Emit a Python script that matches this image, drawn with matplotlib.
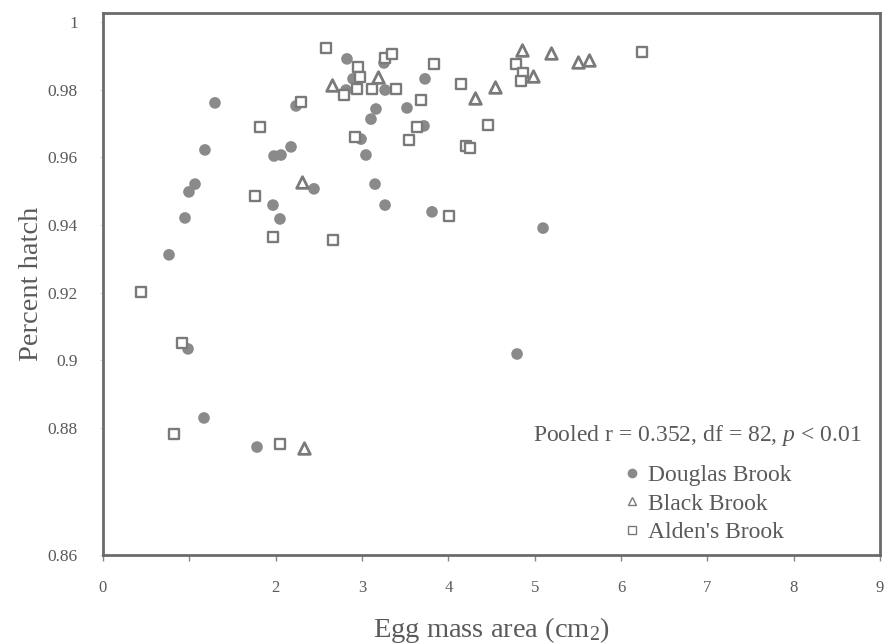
import matplotlib
matplotlib.use("Agg")
import matplotlib.pyplot as plt
from matplotlib.lines import Line2D

plt.rcParams['font.family'] = ['Liberation Serif', 'DejaVu Serif']
plt.rcParams['mathtext.fontset'] = 'custom'
plt.rcParams['mathtext.rm'] = 'Liberation Serif'
plt.rcParams['mathtext.it'] = 'Liberation Serif:italic'

# Douglas Brook (filled circles)
douglas_x = [0.765, 0.950, 0.996, 1.066, 1.181, 1.297, 0.985, 1.170, 1.784, 1.981,
             2.062, 2.178, 2.236, 2.444, 1.969, 2.050, 2.826, 2.815, 2.896, 2.989,
             3.046, 3.104, 3.162, 3.151, 3.267, 3.255, 3.267, 3.521, 3.730, 3.718,
             3.811, 5.097, 4.796]
douglas_y = [0.9312, 0.9421, 0.9498, 0.9521, 0.9622, 0.9761, 0.9034, 0.8830, 0.8744, 0.9604,
             0.9607, 0.9631, 0.9752, 0.9507, 0.9459, 0.9418, 0.9891, 0.9799, 0.9832, 0.9654,
             0.9607, 0.9713, 0.9743, 0.9521, 0.9799, 0.9879, 0.9459, 0.9746, 0.9832, 0.9693,
             0.9439, 0.9391, 0.9019]

# Black Brook (open triangles)
black_x = [2.305, 2.328, 2.653, 3.185, 4.309, 4.541, 4.853, 4.981, 5.189, 5.502, 5.630]
black_y = [0.9527, 0.8742, 0.9814, 0.9838, 0.9775, 0.9808, 0.9917, 0.9840, 0.9908, 0.9882, 0.9888]

# Alden's Brook (open squares)
alden_x = [0.440, 0.915, 0.822, 1.761, 1.819, 1.969, 2.050, 2.294, 2.583, 2.664,
           2.792, 2.919, 2.942, 2.954, 2.977, 3.116, 3.267, 3.348, 3.394, 3.545,
           3.637, 3.684, 3.834, 4.008, 4.147, 4.205, 4.251, 4.460, 4.784, 4.865,
           4.842, 6.243]
alden_y = [0.9202, 0.9052, 0.8783, 0.9486, 0.9690, 0.9365, 0.8753, 0.9764, 0.9923, 0.9356,
           0.9784, 0.9660, 0.9802, 0.9867, 0.9838, 0.9802, 0.9894, 0.9905, 0.9802, 0.9651,
           0.9690, 0.9770, 0.9876, 0.9427, 0.9817, 0.9634, 0.9628, 0.9696, 0.9876, 0.9849,
           0.9826, 0.9911]

series_names = ['Douglas Brook', 'Black Brook', "Alden's Brook"]
stats_text = 'Pooled r = 0.352, df = 82, $p$ < 0.01'

x_ticks = [0, 1, 2, 3, 4, 5, 6, 7, 8, 9]
x_tick_labels = ['0', '', '2', '3', '4', '5', '6', '7', '8', '9']
y_ticks = [0.8425, 0.88, 0.90, 0.92, 0.94, 0.96, 0.98, 1.0]
y_tick_labels = ['0.86', '0.88', '0.9', '0.92', '0.94', '0.96', '0.98', '1']

GRAY = '#8a8a8a'
EDGE = '#7a7a7a'
TXT = '#5a5a5a'

fig = plt.figure(figsize=(8.9, 6.44), dpi=100)
ax = fig.add_axes([0.1157, 0.1382, 0.8731, 0.8416])

ax.scatter(douglas_x, douglas_y, s=70, marker='o', color=GRAY, edgecolors='none', zorder=3)
ax.scatter(black_x, black_y, s=70, marker='^', facecolors='white', edgecolors=EDGE,
           linewidths=2.0, zorder=3)
ax.scatter(alden_x, alden_y, s=62, marker='s', facecolors='white', edgecolors=EDGE,
           linewidths=1.7, zorder=3)

ax.set_xlim(0, 9)
ax.set_ylim(0.8425, 1.00266)
ax.set_xticks(x_ticks)
ax.set_xticklabels(x_tick_labels)
ax.set_yticks(y_ticks)
ax.set_yticklabels(y_tick_labels)

for s in ax.spines.values():
    s.set_color('#6a6a6a')
    s.set_linewidth(2.0)

ax.tick_params(axis='x', direction='out', length=4, width=1, color='#888888',
               labelsize=12, labelcolor=TXT, pad=14)
ax.tick_params(axis='y', direction='out', length=2, width=0.6, color='#cccccc',
               labelsize=12.5, labelcolor=TXT, pad=16)

ax.set_xlabel('Egg mass area (cm$_2$)', fontsize=20.5, color=TXT, labelpad=14)
ax.set_ylabel('Percent hatch', fontsize=20.5, color=TXT, labelpad=3)

handles = [
    Line2D([], [], linestyle='none', marker='o', markersize=6, color=GRAY, markeredgecolor=GRAY),
    Line2D([], [], linestyle='none', marker='^', markersize=6, markerfacecolor='white',
           markeredgecolor=EDGE, markeredgewidth=1),
    Line2D([], [], linestyle='none', marker='s', markersize=6, markerfacecolor='white',
           markeredgecolor=EDGE, markeredgewidth=1),
]
leg = ax.legend(handles, series_names, fontsize=17, frameon=False, loc='lower left',
                bbox_to_anchor=(0.6564, 0.0), handlelength=0.6, handletextpad=0.4,
                labelspacing=0.3, borderaxespad=0.2, borderpad=0.3)
for t in leg.get_texts():
    t.set_color(TXT)

fig.text(862 / 890, 1 - 436 / 644, stats_text, fontsize=17, color=TXT,
         ha='right', va='center')

fig.savefig('out.png', dpi=100)
